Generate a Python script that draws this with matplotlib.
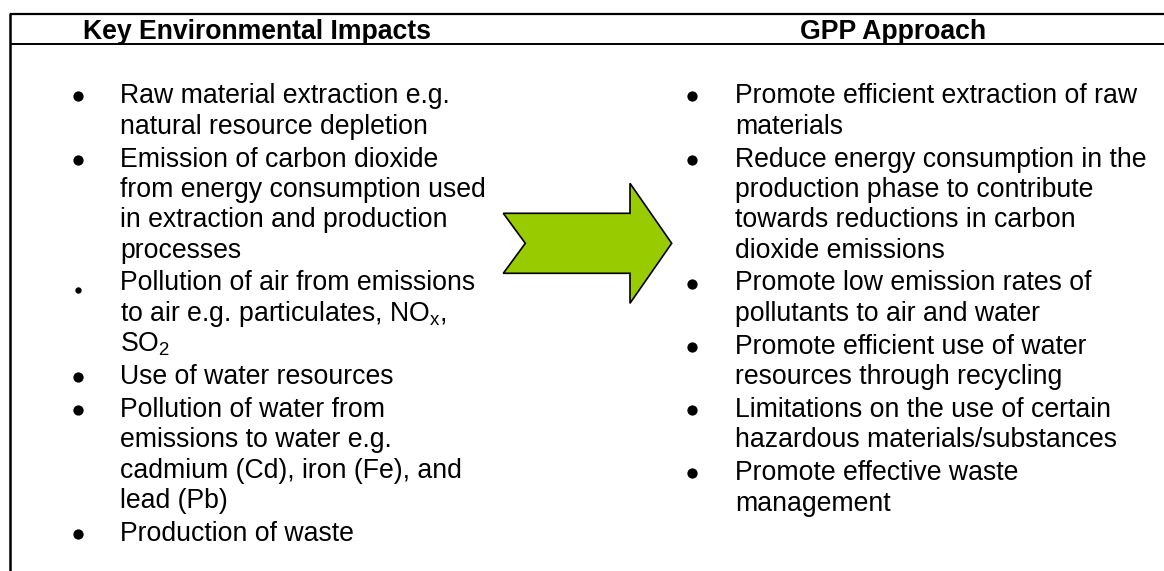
import matplotlib.pyplot as plt
from matplotlib.patches import Polygon

plt.rcParams['font.family'] = ['Liberation Sans', 'DejaVu Sans']
plt.rcParams['mathtext.default'] = 'regular'

headers = ["Key Environmental Impacts", "GPP Approach"]

left_items = [
    ["Raw material extraction e.g.", "natural resource depletion"],
    ["Emission of carbon dioxide", "from energy consumption used",
     "in extraction and production", "processes"],
    ["Pollution of air from emissions", "to air e.g. particulates, NO$_x$,",
     "SO$_2$"],
    ["Use of water resources"],
    ["Pollution of water from", "emissions to water e.g.",
     "cadmium (Cd), iron (Fe), and", "lead (Pb)"],
    ["Production of waste"],
]

right_items = [
    ["Promote efficient extraction of raw", "materials"],
    ["Reduce energy consumption in the", "production phase to contribute",
     "towards reductions in carbon", "dioxide emissions"],
    ["Promote low emission rates of", "pollutants to air and water"],
    ["Promote efficient use of water", "resources through recycling"],
    ["Limitations on the use of certain", "hazardous materials/substances"],
    ["Promote effective waste", "management"],
]

# the odd little bullet in the source document
small_bullets_left = [2]

W, H = 1164, 571
fig = plt.figure(figsize=(W / 100, H / 100), dpi=100)
ax = fig.add_axes([0, 0, 1, 1])
ax.set_xlim(0, W)
ax.set_ylim(H, 0)
ax.axis('off')

fs = 19.2
first_base = 103.3
line_h = 30.3
item_gap = 2.7

# table rules
ax.plot([9.5, W], [13.5, 13.5], color='black', lw=1.6, solid_capstyle='butt')
ax.plot([9.5, W], [43.5, 43.5], color='black', lw=1.4, solid_capstyle='butt')
ax.plot([9.5, 9.5], [12.5, H], color='black', lw=1.8, solid_capstyle='butt')

ax.text(82.7, 39, headers[0], fontsize=fs, fontweight='bold', ha='left', va='baseline')
ax.text(800, 39, headers[1], fontsize=fs, fontweight='bold', ha='left', va='baseline')


def draw_column(items, bullet_x, text_x, small=()):
    n = 0
    for k, item in enumerate(items):
        for j, line in enumerate(item):
            yb = first_base + line_h * n + item_gap * k
            if j == 0:
                if k in small:
                    ax.plot(bullet_x, yb - 1, 'o', color='black', ms=4.6, mec='none')
                else:
                    ax.plot(bullet_x, yb - 7, 'o', color='black', ms=7.4, mec='none')
            ax.text(text_x, yb, line, fontsize=fs, ha='left', va='baseline')
            n += 1


draw_column(left_items, 77.5, 120, small_bullets_left)
draw_column(right_items, 692, 735)

# green block arrow between the columns
x0, x1, xh = 503.3, 671.7, 630
yc, shaft, head = 243.3, 30, 60
notch = 22
arrow = Polygon([
    (x0, yc - shaft), (xh, yc - shaft), (xh, yc - head), (x1, yc),
    (xh, yc + head), (xh, yc + shaft), (x0, yc + shaft), (x0 + notch, yc),
], closed=True, facecolor='#99CC00', edgecolor='black', lw=1.2, joinstyle='miter')
ax.add_patch(arrow)

fig.savefig('out.png', dpi=100)
